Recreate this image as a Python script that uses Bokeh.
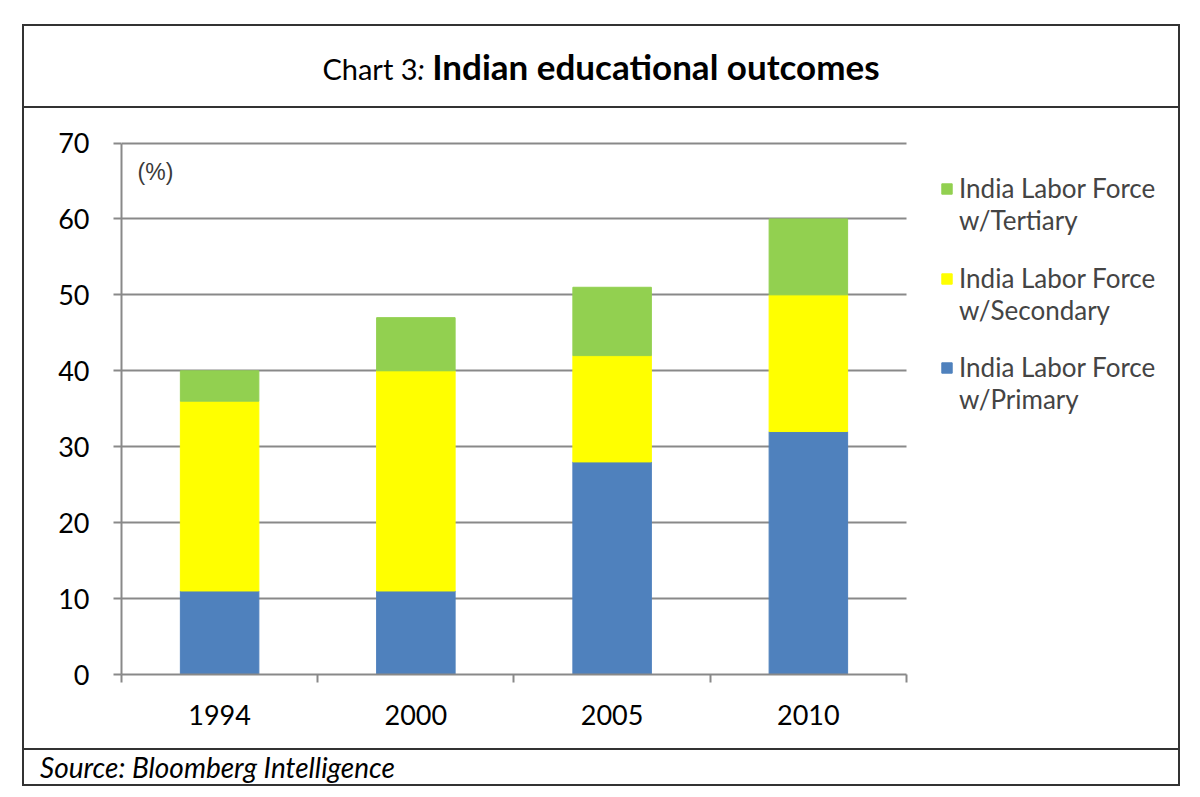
from bokeh.plotting import figure
from bokeh.models import (Range1d, FixedTicker, Legend, LegendItem, Label, Div,
                          ColumnDataSource)
from bokeh.layouts import column
from bokeh.embed import file_html
from bokeh.resources import INLINE

# ---- data ----
years = ["1994", "2000", "2005", "2010"]
primary = [11, 11, 28, 32]
secondary = [25, 29, 14, 18]
tertiary = [4, 7, 9, 10]
series_keys = ["primary", "secondary", "tertiary"]
series_names = ["India Labor Force\nw/Primary",
                "India Labor Force\nw/Secondary",
                "India Labor Force\nw/Tertiary"]
colors = ["#4F81BD", "#FFFF00", "#92D050"]
y_ticks = [0, 10, 20, 30, 40, 50, 60, 70]

FONT = "Lato"
GRID = "#898989"
BORDER = "#333333"

x = list(range(len(years)))
x_lo, x_hi = -0.5, len(years) - 0.5
y_lo, y_hi = 0, 70
src = ColumnDataSource(dict(x=x, primary=primary, secondary=secondary, tertiary=tertiary))

# the frame also spans the legend area on the right and a little above 70;
# axes and grid are bounded to the bar area
p = figure(width=1154, height=640,
           x_range=Range1d(x_lo, x_lo + 5.3758), y_range=Range1d(y_lo, 74.02),
           output_backend="svg", toolbar_location=None,
           min_border_left=97, min_border_right=2, min_border_top=4, min_border_bottom=74,
           background_fill_color="white", border_fill_color="white")
p.outline_line_color = None

renderers = p.vbar_stack(series_keys, x="x", width=0.4, color=colors, source=src)

# axes
p.yaxis.ticker = FixedTicker(ticks=y_ticks)
p.yaxis.bounds = (y_lo, y_hi)
p.yaxis.axis_line_color = GRID
p.yaxis.axis_line_width = 2
p.yaxis.major_tick_line_color = GRID
p.yaxis.major_tick_line_width = 2
p.yaxis.major_tick_out = 8
p.yaxis.major_tick_in = 0
p.yaxis.minor_tick_line_color = None
p.yaxis.major_label_standoff = 24
p.yaxis.major_label_text_font = FONT
p.yaxis.major_label_text_font_size = "27px"
p.yaxis.major_label_text_color = "black"

p.xaxis.ticker = FixedTicker(ticks=x, minor_ticks=[i - 0.5 for i in range(len(years) + 1)])
p.xaxis.bounds = (x_lo, x_hi)
p.xaxis.major_label_overrides = {i: yr for i, yr in enumerate(years)}
p.xaxis.axis_line_color = GRID
p.xaxis.axis_line_width = 2
p.xaxis.major_tick_line_color = None
p.xaxis.minor_tick_line_color = GRID
p.xaxis.minor_tick_line_width = 2
p.xaxis.minor_tick_out = 8
p.xaxis.minor_tick_in = 0
p.xaxis.major_label_standoff = 22
p.xaxis.major_label_text_font = FONT
p.xaxis.major_label_text_font_size = "27px"
p.xaxis.major_label_text_color = "black"

p.xgrid.visible = False
yg = p.ygrid[0]
if "cross_bounds" in yg.properties():
    yg.cross_bounds = (x_lo, x_hi)
    yg.grid_line_color = GRID
    yg.grid_line_width = 2
else:
    yg.visible = False
    p.segment(x0=[x_lo] * len(y_ticks), x1=[x_hi] * len(y_ticks), y0=y_ticks, y1=y_ticks,
              line_color=GRID, line_width=2, level="underlay")

p.add_layout(Label(x=-0.418, y=66.2, text="(%)", text_font="Liberation Sans",
                   text_font_size="23px", text_color="#3a3a3a",
                   text_baseline="middle", text_align="left"))

# legend: one entry per legend box (Tertiary, Secondary, Primary from top);
# blank first line so the swatch sits beside "India Labor Force"
legend_offsets = [438, 348, 259]
for k, i in enumerate((2, 1, 0)):
    lg = Legend(items=[LegendItem(label=" \n" + series_names[i], renderers=[renderers[i]])],
                location=(819, legend_offsets[k]), margin=0, padding=0, spacing=0,
                label_text_font=FONT, label_text_font_size="26px",
                glyph_width=13, glyph_height=13, label_standoff=6,
                border_line_color=None, background_fill_alpha=0)
    p.add_layout(lg, "center")

title_div = Div(
    text=('<div style="width:1154px;height:80px;line-height:80px;text-align:center;'
          'font-family:Lato;color:#000;white-space:nowrap;">'
          '<span style="font-size:29px;">Chart 3<i>:</i>&nbsp;</span>'
          '<span style="font-size:35px;font-weight:bold;">Indian educational outcomes</span></div>'),
    width=1154, height=82, margin=0,
    styles={"border-bottom": "2px solid " + BORDER, "box-sizing": "border-box"})

src_div = Div(
    text=('<div style="height:34px;line-height:34px;padding-left:16px;font-family:Lato;'
          'font-style:italic;font-size:28px;color:#000;white-space:nowrap;">'
          'Source: Bloomberg Intelligence</div>'),
    width=1154, height=36, margin=0,
    styles={"border-top": "2px solid " + BORDER, "box-sizing": "border-box"})

layout = column(title_div, p, src_div, margin=(24, 0, 0, 22),
                styles={"border": "2px solid " + BORDER})

with open("out.html", "w") as f:
    f.write(file_html(layout, INLINE))
